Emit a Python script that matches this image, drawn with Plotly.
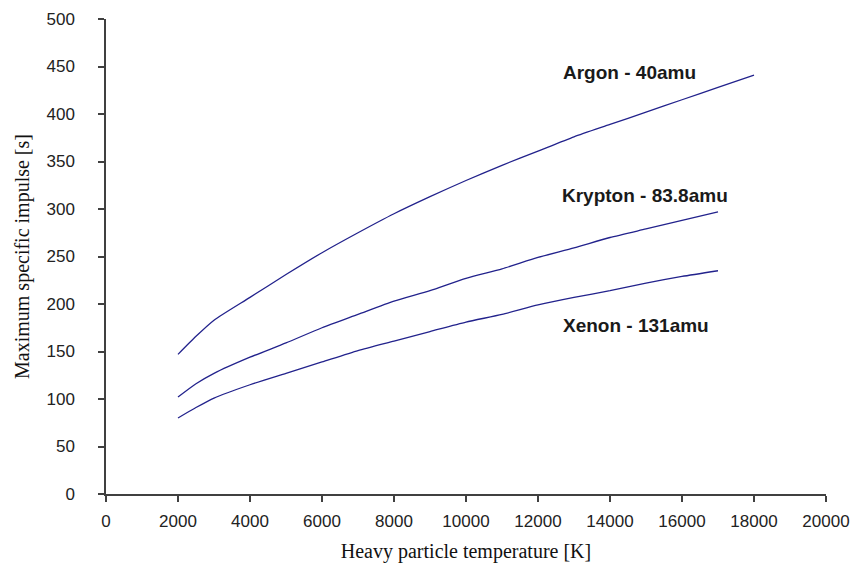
import plotly.graph_objects as go

# Heavy particle temperature [K]
temp_argon = [2000, 2500, 3000, 4000, 5000, 6000, 7000, 8000, 9000, 10000,
              11000, 12000, 13000, 14000, 15000, 16000, 17000, 18000]
temp_kr_xe = [2000, 2500, 3000, 4000, 5000, 6000, 7000, 8000, 9000, 10000,
              11000, 12000, 13000, 14000, 15000, 16000, 17000]

# Maximum specific impulse [s]
isp_argon = [147, 166, 183, 207, 231, 254, 275, 295, 313, 330,
             346, 361, 376, 389, 402, 415, 428, 441]
isp_krypton = [102, 116, 127, 144, 159, 175, 189, 203, 214, 227,
               237, 249, 259, 270, 279, 288, 297]
isp_xenon = [80, 91, 101, 115, 127, 139, 151, 161, 171, 181,
             189, 199, 207, 214, 222, 229, 235]

labels = ["Argon - 40amu", "Krypton - 83.8amu", "Xenon - 131amu"]

LINE = "#22228c"
AXIS = "#404040"
SANS = "Liberation Sans, Arial, sans-serif"
SERIF = "Liberation Serif, Times New Roman, serif"

fig = go.Figure()
for xs, ys, name in [(temp_argon, isp_argon, labels[0]),
                     (temp_kr_xe, isp_krypton, labels[1]),
                     (temp_kr_xe, isp_xenon, labels[2])]:
    fig.add_trace(go.Scatter(x=xs, y=ys, mode="lines", name=name,
                             line=dict(color=LINE, width=1.3, shape="spline",
                                       smoothing=0.6)))

# Gas labels beside each curve
for text, x, y in [(labels[0], 12650, 444), (labels[1], 12600, 314),
                   (labels[2], 12650, 177)]:
    fig.add_annotation(x=x, y=y, text=f"<b>{text}</b>", showarrow=False,
                       xanchor="left", yanchor="middle",
                       font=dict(family=SANS, size=19, color="#1a1a1a"))

fig.update_layout(
    width=852, height=565,
    margin=dict(l=106, r=26, t=19, b=71),
    paper_bgcolor="white", plot_bgcolor="white",
    showlegend=False,
    xaxis=dict(
        range=[0, 20000], tickmode="linear", tick0=0, dtick=2000,
        tickformat="d", automargin=False,
        showgrid=False, zeroline=False,
        showline=True, linecolor=AXIS, linewidth=1.5,
        ticks="outside", ticklen=6, tickwidth=1.5, tickcolor=AXIS,
        ticklabelstandoff=5,
        tickfont=dict(family=SANS, size=17, color="#222"),
        title=dict(text="Heavy particle temperature [K]", standoff=14,
                   font=dict(family=SERIF, size=20, color="#111")),
    ),
    yaxis=dict(
        range=[0, 500], tickmode="linear", tick0=0, dtick=50,
        automargin=False,
        showgrid=False, zeroline=False,
        showline=True, linecolor=AXIS, linewidth=1.5,
        ticks="outside", ticklen=6, tickwidth=1.5, tickcolor=AXIS,
        ticklabelstandoff=20,
        tickfont=dict(family=SANS, size=17, color="#222"),
        title=dict(text="Maximum specific impulse [s]", standoff=11,
                   font=dict(family=SERIF, size=20, color="#111")),
    ),
)

fig.write_html("out.html")
